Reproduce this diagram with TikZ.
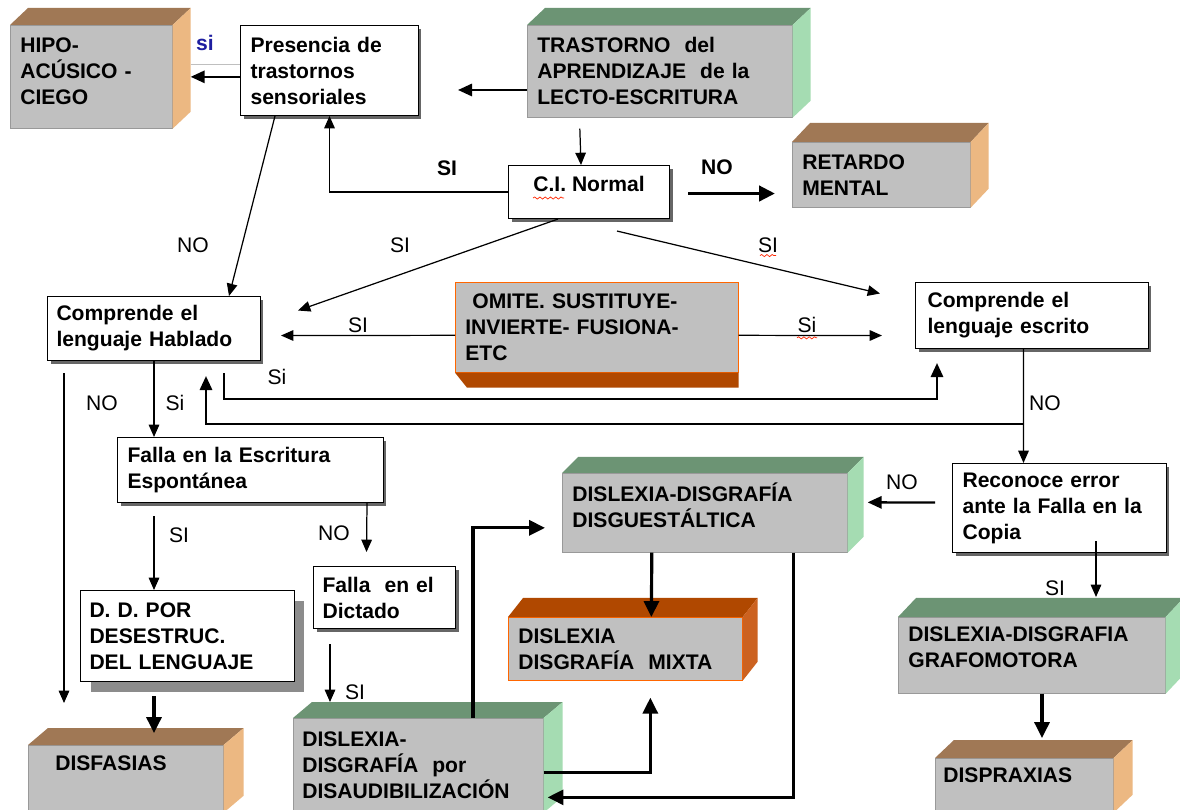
\documentclass[tikz,border=0pt]{standalone}
\usepackage{fontspec}
\setmainfont{Liberation Sans}
\usetikzlibrary{arrows.meta,calc,shadows,decorations.pathmorphing}

\definecolor{facegray}{RGB}{192,192,192}
\definecolor{brtop}{RGB}{160,120,85}
\definecolor{brside}{RGB}{236,184,130}
\definecolor{grtop}{RGB}{108,148,116}
\definecolor{grside}{RGB}{165,220,178}
\definecolor{ortop}{RGB}{176,72,0}
\definecolor{orside}{RGB}{204,98,32}
\definecolor{sibl}{RGB}{30,30,160}

\begin{document}
\begin{tikzpicture}
  [x=0.02cm,y=-0.02cm,
   every node/.style={font=\fontsize{12}{14.8}\selectfont},
   cube/.style={anchor=north west,fill=facegray,draw=black!40,line width=0.4pt,align=left,
     inner xsep=0.2cm,inner ysep=0pt,font=\fontsize{12}{14.8}\selectfont\bfseries},
   plain/.style={anchor=north west,fill=white,draw=black,line width=0.6pt,align=left,
     inner xsep=0.2cm,inner ysep=0pt,font=\fontsize{12}{14.8}\selectfont\bfseries},
   wbox/.style={plain,drop shadow={shadow xshift=0.06cm,shadow yshift=-0.06cm,fill=black!60,opacity=1}},
   lbl/.style={inner sep=1pt},
   blbl/.style={inner sep=1pt,font=\fontsize{12}{14.8}\selectfont\bfseries},
   arr/.style={line width=0.7pt,-{Triangle[length=7pt,width=6pt]}},
   marr/.style={line width=1.3pt,-{Triangle[length=8pt,width=7pt]}},
   tarr/.style={line width=1.8pt,-{Triangle[length=9pt,width=8.5pt]}}]

  \fill[white] (0,0) rectangle (1180,810);
  \useasboundingbox (0,0) rectangle (1180,810);

  \node[cube,minimum width=3.24cm,minimum height=2.06cm,text width=2.84cm,text depth=36.4pt] (hipo) at (10,25) {HIPO-\\ACÚSICO -\\CIEGO};
  \node[wbox,minimum width=3.56cm,minimum height=1.8cm,text width=3.16cm] (pres) at (240,25) {Presencia de\\trastornos\\sensoriales};
  \node[cube,minimum width=5.3cm,minimum height=1.84cm,text width=4.9cm] (trast) at (527,25) {TRASTORNO\ \ del\\APRENDIZAJE\ \ de la\\LECTO-ESCRITURA};
  \node[wbox,minimum width=3.22cm,minimum height=1.06cm,text height=9pt,text depth=10pt] (ci) at (508,165) {C.I. Normal};
  \node[cube,minimum width=3.56cm,minimum height=1.3cm,text width=3.16cm] (retardo) at (792,142) {RETARDO\\MENTAL};
  \node[wbox,minimum width=4.26cm,minimum height=1.28cm,inner xsep=0.18cm,text width=3.9cm] (habl) at (47,296) {Comprende el\\lenguaje Hablado};
  \node[cube,draw=orange!80!red,minimum width=5.66cm,minimum height=1.8cm,text width=5.26cm] (omite) at (455,282) {\hspace*{0.14cm}OMITE. SUSTITUYE-\\INVIERTE- FUSIONA-\\ETC};
  \node[wbox,minimum width=4.66cm,minimum height=1.32cm,inner xsep=0.24cm,text width=4.18cm] (escr) at (915,282) {Comprende el\\lenguaje escrito};
  \node[wbox,minimum width=5.32cm,minimum height=1.3cm,text width=4.92cm] (fesc) at (117,437) {Falla en la Escritura\\Espontánea};
  \node[cube,minimum width=5.7cm,minimum height=1.58cm,text width=5.3cm,text depth=23.8pt] (disg) at (562,473) {DISLEXIA-DISGRAFÍA\\DISGUESTÁLTICA};
  \node[wbox,minimum width=4.28cm,minimum height=1.78cm,text width=3.88cm] (recon) at (952,463) {Reconoce error\\ante la Falla en la\\Copia};
  \node[wbox,minimum width=2.84cm,minimum height=1.24cm,inner xsep=0.18cm,text width=2.48cm] (fdic) at (313,566) {Falla\ \ en el\\Dictado};
  \node[plain,drop shadow={shadow xshift=0.2cm,shadow yshift=-0.2cm,fill=black!45,opacity=1},
    minimum width=4.28cm,minimum height=1.82cm,inner xsep=0.18cm,text width=3.92cm] (dd) at (80,590) {D. D. POR\\DESESTRUC.\\DEL LENGUAJE};
  \node[cube,draw=orange!80!red,minimum width=4.68cm,minimum height=1.26cm,text width=4.28cm] (mixta) at (508,617) {DISLEXIA\\DISGRAFÍA\ \ MIXTA};
  \node[cube,minimum width=5.34cm,minimum height=1.52cm,text width=4.94cm,text depth=23.8pt] (grafo) at (898,617) {DISLEXIA-DISGRAFIA\\GRAFOMOTORA};
  \node[cube,minimum width=5cm,minimum height=1.88cm,inner xsep=0.18cm,text width=4.64cm] (disaud) at (293,718) {DISLEXIA-\\DISGRAFÍA\ \ por\\DISAUDIBILIZACIÓN};
  \node[cube,minimum width=3.9cm,minimum height=1.34cm,inner xsep=0.54cm,text width=2.82cm,text height=9pt,text depth=18pt] (disfasias) at (28,745) {DISFASIAS};
  \node[cube,minimum width=3.56cm,minimum height=1.08cm,inner xsep=0.16cm,text width=3.24cm,text height=9pt,text depth=11.8pt] (dispraxias) at (935,758) {DISPRAXIAS};

  \foreach \n/\dx/\dy/\tc/\sc in {hipo/18/17/brtop/brside, trast/18/17/grtop/grside, retardo/18/19/brtop/brside,
      disg/16/16/grtop/grside, mixta/15/19/ortop/orside, disaud/19/16/grtop/grside,
      disfasias/20/17/brtop/brside, grafo/18/19/grtop/grside, dispraxias/19/18/brtop/brside}{
    \fill[\tc] (\n.north west) -- ++(\dx,-\dy) -- ($(\n.north east)+(\dx,-\dy)$) -- (\n.north east) -- cycle;
    \fill[\sc] (\n.north east) -- ++(\dx,-\dy) -- ($(\n.south east)+(\dx,-\dy)$) -- (\n.south east) -- cycle;
  }
  \fill[ortop] (omite.south west) -- (omite.south east) -- ++(0,15) -- ($(omite.south west)+(12,15)$) -- cycle;

  \coordinate (tend) at (458,90);
  \coordinate (jn) at ($(escr.south)+(-8.5,75)$);

  \draw[line width=0.5pt,black!25] ($(hipo.north east)+(18,39)$) -- ($(pres.north west)+(0,39)$);
  \draw[marr] (pres.west |- hipo.east) -- ($(hipo.east)+(18,0)$);
  \draw[marr] (trast.west |- tend) -- (tend);
  \draw[arr] ($(trast.south)+(-80,11)$) -- ($(ci.north)+(-8,0)$);
  \draw[tarr,line width=2.2pt] ($(ci.east)+(18,1.5)$) -- ($(retardo.west |- ci.east)+(-17,1.5)$);
  \draw[arr] (ci.west) -| (pres.south);
  \draw[arr] ($(pres.south west)+(35,0)$) -- ($(habl.north east)+(-32,0)$);
  \draw[arr] ($(ci.south)+(-31,0)$) -- ($(habl.east)+(37,-18)$);
  \draw[arr] ($(ci.south)+(28,12)$) -- ($(escr.west)+(-35,-22)$);
  \draw[arr] ($(omite.west)+(0,8)$) -- ($(habl.east)+(20,7)$);
  \draw[arr] ($(omite.east)+(0,8)$) -- ($(escr.west)+(-33,20)$);
  \draw[marr] ($(habl.south east)+(-37,12)$) -- ++(0,26) -| ($(escr.south west)+(22,14)$);
  \draw[arr] ($(escr.south)+(-8.5,0)$) -- ($(recon.north)+(-36,0)$);
  \draw[marr] (jn) -| ($(habl.south west)+(159,15)$);
  \draw[arr] (habl.south) -- (habl.south |- fesc.north);
  \draw[arr] ($(habl.south west)+(17,12)$) -- ($(disfasias.north west)+(36,-42)$);
  \draw[arr] ($(fesc.south west)+(37,13)$) -- ($(dd.north west)+(74,0)$);
  \draw[arr] ($(fesc.south east)+(-17,0)$) -- ($(fdic.north)+(-18,-14)$);
  \draw[tarr] ($(dd.south west)+(74,14)$) -- ($(disfasias.north west)+(126,-12)$);
  \draw[arr] ($(fdic.south west)+(17,15)$) -- ($(disaud.north west)+(37,-16)$);
  \draw[tarr] ($(disaud.north west)+(180,0)$) |- ($(disg.west)+(-17,15)$);
  \draw[tarr] ($(disg.south)+(-53,0)$) -- ($(mixta.north)+(26,0)$);
  \draw[tarr] ($(disaud.east)+(0,7)$) -| ($(mixta.south)+(25,17)$);
  \draw[tarr] ($(disg.south east)+(-54,0)$) |- ($(disaud.east)+(4,32)$);
  \draw[marr] ($(recon.west)+(-17,-5.5)$) -- ($(disg.east)+(20,-10.5)$);
  \draw[arr] ($(recon.south west)+(144,-12)$) -- ($(grafo.north west)+(198,-20)$);
  \draw[tarr] ($(grafo.south west)+(144,0)$) -- ($(dispraxias.north west)+(107,-20)$);

  \foreach \t/\x/\y [count=\i] in {NO/193/245, SI/400/245, SI/768/245, SI/358/325, Si/807/325, Si/277/377,
      NO/102/403, Si/175/403, NO/1045/403, SI/179/535, NO/334/533, SI/355/692, NO/902/482, SI/1055/588}
    \node[lbl] (l\i) at (\x,\y) {\t};
  \node[blbl] (sitop) at (447,168) {SI};
  \node[blbl] (notop) at (717,167) {NO};
  \node[blbl,text=sibl] (sihipo) at (205,43) {si};

  \draw[red!70!orange,decorate,decoration={snake,amplitude=0.6pt,segment length=3pt}] ($(ci.center)+(-56,6)$) -- ++(31,0);
  \draw[red!70!orange,decorate,decoration={snake,amplitude=0.6pt,segment length=3pt}] ($(l3.south)+(-8,1)$) -- ++(16,0);
  \draw[red!70!orange,decorate,decoration={snake,amplitude=0.6pt,segment length=3pt}] ($(l5.south)+(-10,3)$) -- ++(20,0);

\end{tikzpicture}
\end{document}
